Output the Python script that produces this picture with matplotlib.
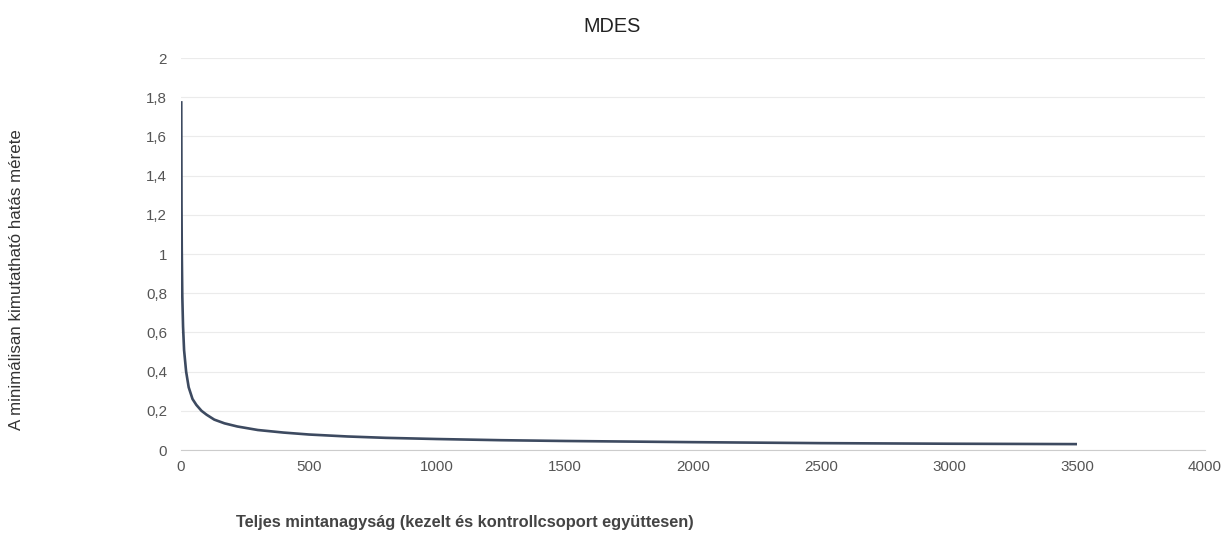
import matplotlib
matplotlib.use('Agg')
import matplotlib.pyplot as plt
from matplotlib import font_manager
from matplotlib.ticker import FuncFormatter

# sample size (total) and minimum detectable effect size
sample_size = [1, 2, 3, 5, 8, 12, 20, 30, 45, 60, 80, 100, 130, 170, 220, 300,
               400, 500, 650, 800, 1000, 1250, 1500, 2000, 2500, 3000, 3500]
mdes = [1.78, 1.25, 1.02, 0.79, 0.63, 0.51, 0.40, 0.32, 0.26, 0.23, 0.20, 0.18,
        0.155, 0.136, 0.12, 0.102, 0.089, 0.079, 0.069, 0.062, 0.056, 0.050,
        0.046, 0.040, 0.035, 0.032, 0.030]

x_ticks = [0, 500, 1000, 1500, 2000, 2500, 3000, 3500, 4000]
y_ticks = [0, 0.2, 0.4, 0.6, 0.8, 1.0, 1.2, 1.4, 1.6, 1.8, 2.0]

installed = {f.name for f in font_manager.fontManager.ttflist}
if 'Liberation Sans Narrow' in installed:
    narrow = ['Liberation Sans Narrow', 'DejaVu Sans']
    scale = 1.0
else:
    narrow = ['Liberation Sans', 'DejaVu Sans']
    scale = 0.84

plt.rcParams['font.family'] = ['Liberation Sans', 'DejaVu Sans']

fig = plt.figure(figsize=(12.22, 5.35), dpi=100)
ax = fig.add_axes([181 / 1222, 1 - 450 / 535, 1024 / 1222, 392 / 535])

ax.plot(sample_size, mdes, color='#3d4a60', linewidth=1.9, solid_capstyle='butt')

ax.set_xlim(0, 4000)
ax.set_ylim(0, 2)
ax.set_xticks(x_ticks)
ax.set_yticks(y_ticks)

def comma_fmt(v, pos):
    s = f'{v:.1f}'.rstrip('0').rstrip('.')
    return s.replace('.', ',')

ax.yaxis.set_major_formatter(FuncFormatter(comma_fmt))
ax.xaxis.set_major_formatter(FuncFormatter(lambda v, p: f'{int(v)}'))

ax.grid(axis='y', color='#ebebeb', linewidth=0.8)
ax.set_axisbelow(True)
for side in ['top', 'right', 'left']:
    ax.spines[side].set_visible(False)
ax.spines['bottom'].set_color('#cccccc')
ax.spines['bottom'].set_linewidth(0.8)
ax.tick_params(length=0, colors='#555555')
ax.tick_params(axis='x', pad=7)
ax.tick_params(axis='y', pad=10)
for lab in ax.get_xticklabels() + ax.get_yticklabels():
    lab.set_family(narrow)
    lab.set_fontsize(13 * scale)

fig.text(612 / 1222, 1 - 26 / 535, 'MDES', ha='center', va='center',
         fontsize=17 * scale, color='#222222', family=narrow)
fig.text(17 / 1222, 1 - 280 / 535, 'A minimálisan kimutatható hatás mérete',
         rotation=90, ha='center', va='center', fontsize=12.2, color='#333333')
fig.text(465 / 1222, 1 - 522 / 535,
         'Teljes mintanagyság (kezelt és kontrollcsoport együttesen)',
         ha='center', va='center', fontsize=14 * scale, fontweight='bold',
         color='#444444', family=narrow)

fig.savefig('out.png', dpi=100)
